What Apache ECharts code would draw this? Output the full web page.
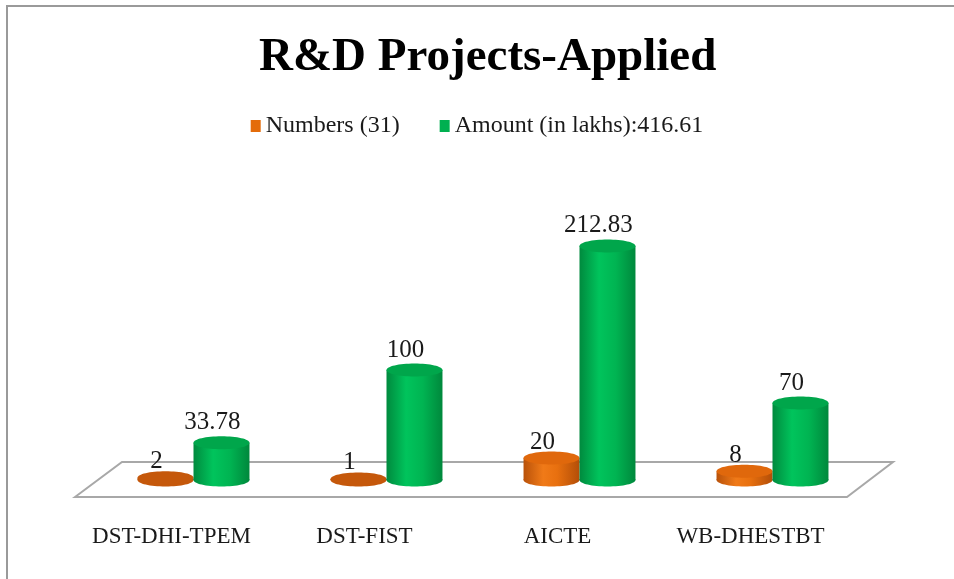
<!DOCTYPE html>
<html><head><meta charset="utf-8">
<script src="https://cdn.jsdelivr.net/npm/echarts@6/dist/echarts.min.js"></script>
<style>html,body{margin:0;padding:0;background:#fff}#c{width:954px;height:579px}</style>
</head><body><div id="c"></div>
<script>
const titleText = 'R&D Projects-Applied';
const categories = ['DST-DHI-TPEM', 'DST-FIST', 'AICTE', 'WB-DHESTBT'];
const seriesNames = ['Numbers (31)', 'Amount (in lakhs):416.61'];
const numbersValues = [2, 1, 20, 8];
const amountValues = [33.78, 100, 212.83, 70];

const SERIF = '"Liberation Serif", "Times New Roman", serif';
const chart = echarts.init(document.getElementById('c'), null, { renderer: 'canvas' });

function grad(stops) {
  return { type: 'linear', x: 0, y: 0, x2: 1, y2: 0,
    colorStops: stops.map(s => ({ offset: s[0], color: s[1] })) };
}
const palette = {
  orange: { main: '#E46C0A', side: [[0, '#b9520a'], [0.35, '#f07a18'], [0.6, '#e8700f'], [1, '#b34e08']], top: '#e0680c', flat: '#c5580b', labelGap: 16 },
  green: { main: '#00B050', side: [[0, '#008a3e'], [0.35, '#00c45c'], [0.65, '#00b452'], [1, '#00883c']], top: '#00a64b', flat: '#00a64b', labelGap: 20 }
};

function cylinder(side, pal) {
  return function (params, api) {
    const idx = api.value(0), val = api.value(1);
    const base = api.coord([idx, 0]);
    const top = api.coord([idx, val]);
    const band = api.size([1, 0])[0];
    const rx = band * 0.145, ry = 6.5;
    const cx = base[0] + side * rx;
    const h = base[1] - top[1];
    const flat = h < 4;
    return {
      type: 'group',
      children: [
        { type: 'ellipse', shape: { cx: cx, cy: base[1], rx: rx, ry: ry }, style: { fill: flat ? pal.flat : grad(pal.side) } },
        { type: 'rect', shape: { x: cx - rx, y: top[1], width: rx * 2, height: h }, style: { fill: grad(pal.side) } },
        { type: 'ellipse', shape: { cx: cx, cy: top[1], rx: rx, ry: ry }, style: { fill: flat ? pal.flat : pal.top } },
        { type: 'text', style: { text: String(val), x: cx - 9, y: top[1] - pal.labelGap, align: 'center', verticalAlign: 'middle',
            fontFamily: SERIF, fontSize: 25, fill: '#1a1a1a' } }
      ]
    };
  };
}

function floorItem(params, api) {
  const cs = params.coordSys;
  const gx = cs.x, gw = cs.width, by = cs.y + cs.height;
  return {
    type: 'polygon',
    shape: { points: [[gx - 22, by + 17], [gx + 25, by - 18], [gx + gw + 24, by - 18], [gx + gw - 22, by + 17]] },
    style: { fill: '#ffffff', stroke: '#a8a8a8', lineWidth: 2 },
    silent: true
  };
}

chart.setOption({
  backgroundColor: '#ffffff',
  animation: false,
  title: {
    text: titleText, left: 254, top: 29,
    textStyle: { fontFamily: SERIF, fontWeight: 'bold', fontSize: 47, color: '#000' }
  },
  legend: {
    top: 109, left: 'center', icon: 'rect', itemWidth: 10, itemHeight: 12, itemGap: 40,
    data: seriesNames,
    textStyle: { fontFamily: SERIF, fontSize: 24, color: '#1a1a1a' }
  },
  graphic: [
    { type: 'rect', shape: { x: 7, y: 6, width: 1000, height: 700 }, style: { fill: 'none', stroke: '#9a9a9a', lineWidth: 2 }, silent: true }
  ],
  grid: { left: 97, right: 85, top: 205, bottom: 99 },
  xAxis: {
    type: 'category', data: categories,
    axisLine: { show: false }, axisTick: { show: false }, splitLine: { show: false },
    axisLabel: { interval: 0, margin: 45, fontFamily: SERIF, fontSize: 23, color: '#1a1a1a', padding: [0, 44, 0, 0] }
  },
  yAxis: { type: 'value', min: 0, max: 250, show: false, splitLine: { show: false } },
  series: [
    { name: 'floor', type: 'custom', renderItem: floorItem, data: [[0, 0]], z: 1, silent: true },
    { name: seriesNames[0], type: 'custom', renderItem: cylinder(-1, palette.orange), itemStyle: { color: palette.orange.main },
      data: numbersValues.map((v, i) => [i, v]), z: 2 },
    { name: seriesNames[1], type: 'custom', renderItem: cylinder(1, palette.green), itemStyle: { color: palette.green.main },
      data: amountValues.map((v, i) => [i, v]), z: 3 }
  ]
});
</script>
</body></html>
